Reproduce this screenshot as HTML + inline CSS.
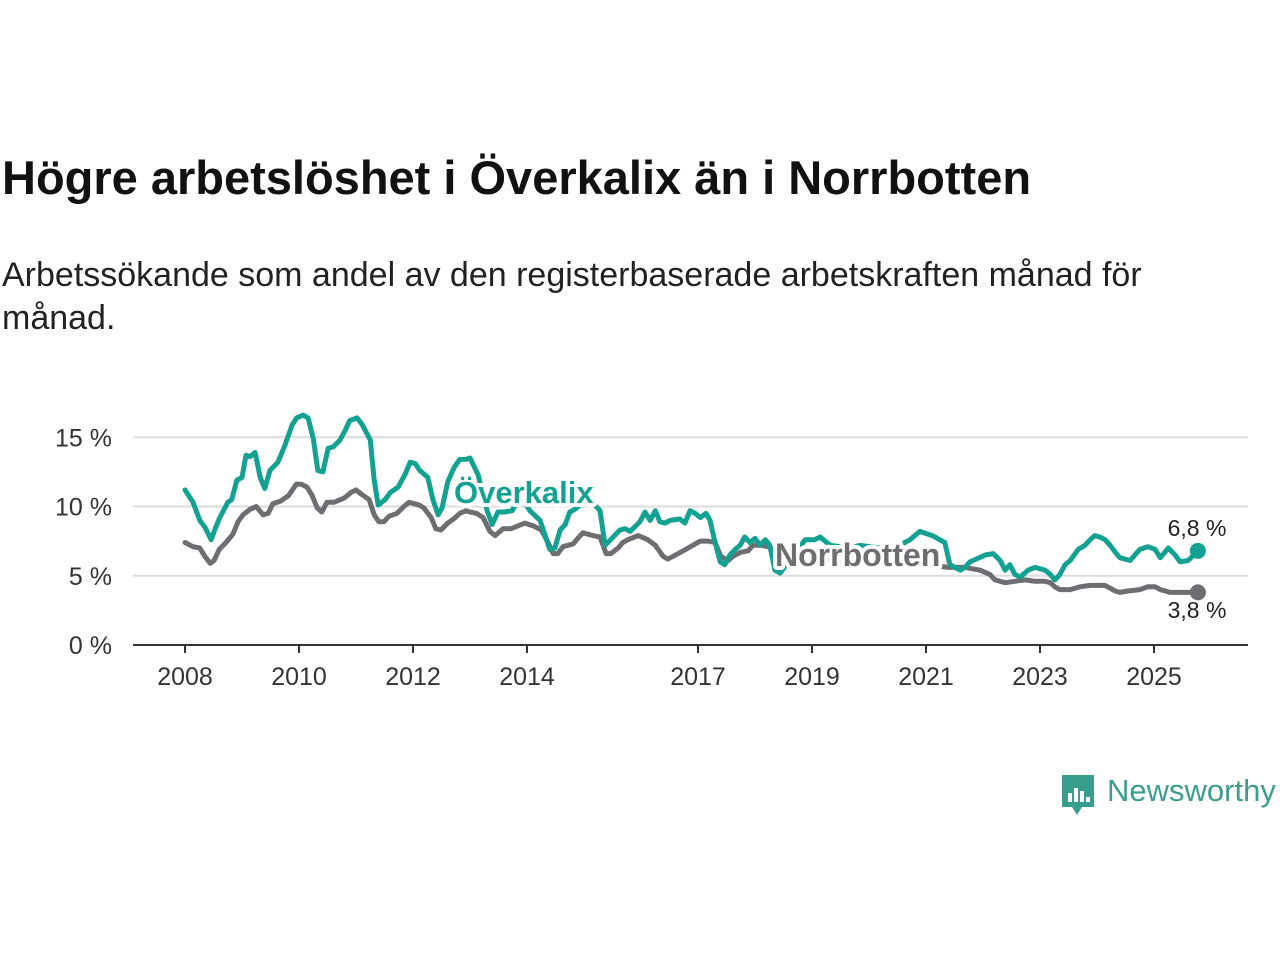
<!DOCTYPE html>
<html><head><meta charset="utf-8">
<style>
body{margin:0;width:1280px;height:960px;background:#fff;font-family:"Liberation Sans",sans-serif;overflow:hidden;position:relative}
h1{position:absolute;left:2px;top:150px;margin:0;font-size:47px;font-weight:bold;color:#111;white-space:nowrap}
p.sub{position:absolute;left:2px;top:254px;margin:0;font-size:34px;line-height:43px;color:#222;width:1200px}
svg{position:absolute;left:0;top:0}
</style></head>
<body>
<h1>Högre arbetslöshet i Överkalix än i Norrbotten</h1>
<p class="sub">Arbetssökande som andel av den registerbaserade arbetskraften månad för månad.</p>
<svg id="chart" width="1280" height="960"></svg>
<script>
const yTicks=[0,5,10,15];
const yTickLabels=["0 %","5 %","10 %","15 %"];
const xTicks=[2008,2010,2012,2014,2017,2019,2021,2023,2025];
const tOver=[2008.00,2008.14,2008.26,2008.35,2008.46,2008.53,2008.61,2008.75,2008.82,2008.91,2009.00,2009.07,2009.14,2009.23,2009.32,2009.40,2009.49,2009.63,2009.75,2009.88,2009.96,2010.07,2010.16,2010.25,2010.33,2010.42,2010.51,2010.60,2010.72,2010.81,2010.89,2011.02,2011.11,2011.25,2011.32,2011.39,2011.51,2011.60,2011.74,2011.86,2011.95,2012.04,2012.12,2012.26,2012.35,2012.44,2012.51,2012.61,2012.72,2012.82,2012.93,2013.00,2013.14,2013.21,2013.30,2013.39,2013.49,2013.61,2013.74,2013.88,2014.05,2014.23,2014.40,2014.49,2014.58,2014.67,2014.75,2014.84,2014.93,2015.11,2015.19,2015.28,2015.37,2015.49,2015.63,2015.72,2015.81,2015.98,2016.07,2016.16,2016.25,2016.33,2016.42,2016.51,2016.68,2016.77,2016.86,2016.95,2017.04,2017.14,2017.21,2017.30,2017.39,2017.47,2017.56,2017.65,2017.74,2017.82,2017.91,2018.00,2018.09,2018.18,2018.26,2018.35,2018.44,2018.61,2018.88,2019.05,2019.14,2019.32,2019.67,2019.84,2020.19,2020.54,2020.72,2020.89,2021.11,2021.33,2021.42,2021.60,2021.68,2021.77,2022.04,2022.18,2022.30,2022.39,2022.47,2022.56,2022.65,2022.79,2022.91,2023.09,2023.18,2023.26,2023.35,2023.44,2023.53,2023.67,2023.79,2023.88,2023.96,2024.05,2024.14,2024.23,2024.32,2024.40,2024.58,2024.75,2024.89,2025.02,2025.11,2025.25,2025.37,2025.46,2025.60,2025.77];
const vOver=[11.2,10.3,9.0,8.5,7.6,8.4,9.2,10.3,10.5,11.9,12.1,13.7,13.6,13.9,12.1,11.3,12.6,13.2,14.4,15.9,16.4,16.6,16.4,14.9,12.6,12.5,14.2,14.3,14.8,15.5,16.2,16.4,15.9,14.8,11.9,10.1,10.5,11.0,11.4,12.3,13.2,13.1,12.6,12.1,10.5,9.4,9.9,11.8,12.8,13.4,13.4,13.5,12.3,11.2,9.7,8.7,9.6,9.6,9.7,10.8,9.7,9.0,6.9,7.0,8.3,8.7,9.6,9.8,10.1,10.8,10.1,9.7,7.2,7.7,8.3,8.4,8.2,8.9,9.6,9.0,9.7,8.9,8.8,9.0,9.1,8.8,9.7,9.5,9.2,9.5,9.0,7.4,6.0,5.8,6.5,6.9,7.2,7.8,7.4,7.7,7.2,7.6,7.2,5.4,5.2,6.1,7.6,7.6,7.8,7.2,7.0,7.2,7.0,7.2,7.6,8.2,7.9,7.4,5.8,5.4,5.6,6.0,6.5,6.6,6.1,5.4,5.8,5.1,4.9,5.4,5.6,5.4,5.1,4.7,5.1,5.8,6.1,6.9,7.2,7.6,7.9,7.8,7.6,7.2,6.7,6.3,6.1,6.9,7.1,6.9,6.3,7.0,6.5,6.0,6.1,6.8];
const tNorr=[2008.00,2008.14,2008.26,2008.35,2008.44,2008.51,2008.60,2008.72,2008.84,2008.93,2009.02,2009.14,2009.25,2009.37,2009.46,2009.54,2009.68,2009.82,2009.95,2010.04,2010.14,2010.23,2010.32,2010.40,2010.49,2010.61,2010.79,2010.91,2011.00,2011.09,2011.23,2011.32,2011.40,2011.49,2011.58,2011.72,2011.84,2011.93,2012.02,2012.11,2012.19,2012.32,2012.40,2012.49,2012.61,2012.74,2012.82,2012.93,2013.00,2013.12,2013.23,2013.35,2013.44,2013.58,2013.72,2013.84,2013.96,2014.11,2014.25,2014.37,2014.46,2014.54,2014.63,2014.72,2014.81,2014.89,2014.98,2015.07,2015.16,2015.28,2015.39,2015.47,2015.60,2015.68,2015.77,2015.95,2016.12,2016.25,2016.39,2016.47,2016.56,2016.74,2016.91,2017.04,2017.18,2017.30,2017.40,2017.53,2017.61,2017.75,2017.88,2017.96,2018.11,2018.23,2018.32,2018.6,2019.0,2019.5,2020.0,2020.5,2021.0,2021.4,2021.68,2021.95,2022.12,2022.21,2022.39,2022.56,2022.74,2022.91,2023.09,2023.18,2023.26,2023.35,2023.53,2023.70,2023.88,2024.05,2024.14,2024.23,2024.32,2024.40,2024.54,2024.75,2024.89,2025.02,2025.11,2025.28,2025.46,2025.63,2025.77];
const vNorr=[7.4,7.1,7.0,6.4,5.9,6.1,6.9,7.4,8.0,8.9,9.4,9.8,10.0,9.4,9.5,10.2,10.4,10.8,11.6,11.6,11.4,10.8,9.9,9.6,10.3,10.3,10.6,11.0,11.2,10.9,10.5,9.4,8.9,8.9,9.3,9.5,10.0,10.3,10.2,10.1,9.9,9.2,8.4,8.3,8.8,9.2,9.5,9.7,9.6,9.5,9.2,8.2,7.9,8.4,8.4,8.6,8.8,8.6,8.3,7.4,6.6,6.6,7.1,7.2,7.3,7.7,8.1,8.0,7.9,7.8,6.6,6.6,7.0,7.4,7.6,7.9,7.6,7.2,6.4,6.2,6.4,6.8,7.2,7.5,7.5,7.4,6.4,6.1,6.4,6.7,6.8,7.2,7.2,7.1,6.9,6.6,6.3,6.0,5.9,5.9,5.8,5.6,5.6,5.4,5.1,4.7,4.5,4.6,4.7,4.6,4.6,4.5,4.2,4.0,4.0,4.2,4.3,4.3,4.3,4.1,3.9,3.8,3.9,4.0,4.2,4.2,4.0,3.8,3.8,3.8,3.8];
const NS='http://www.w3.org/2000/svg';
const svg=document.getElementById('chart');
const X=t=>185+(t-2008)*57;
const Y=v=>645-v*13.85;
function el(tag,attrs,parent){const e=document.createElementNS(NS,tag);for(const k in attrs)e.setAttribute(k,attrs[k]);(parent||svg).appendChild(e);return e;}
yTicks.forEach((v,i)=>{
  if(v>0){const g=el('line',{x1:133,x2:1248,y1:Y(v),y2:Y(v),stroke:'#dcdcdc','stroke-width':2});
  
  }
  const t=el('text',{x:112,y:Y(v)+9,'text-anchor':'end','font-size':25,fill:'#333'});
  t.textContent=yTickLabels[i];
  
  
});
const ax=el('line',{x1:133,x2:1248,y1:645,y2:645,stroke:'#333','stroke-width':2});


xTicks.forEach(yr=>{
  const tk=el('line',{x1:X(yr),x2:X(yr),y1:645,y2:653,stroke:'#333','stroke-width':2});
  
  
  const t=el('text',{x:X(yr),y:685,'text-anchor':'middle','font-size':25,fill:'#333'});
  t.textContent=yr;
  
  
});
function line(ts,vs,color,name){
  const d=ts.map((t,i)=>(i?'L':'M')+X(t).toFixed(1)+','+Y(vs[i]).toFixed(1)).join('');
  const p=el('path',{d:d,fill:'none',stroke:color,'stroke-width':5,'stroke-linejoin':'round','stroke-linecap':'round'});
  
  
  const n=ts.length-1;
  const c=el('circle',{cx:X(ts[n]),cy:Y(vs[n]),r:8,fill:color});
  
  
}
line(tNorr,vNorr,'#6e6e72','norrbotten-line');
line(tOver,vOver,'#13a292','overkalix-line');
function label(txt,x,y,color,name,size,bold,anchor){
  const t=el('text',{x:x,y:y,'font-size':size,'font-weight':bold?'bold':'normal',fill:color,stroke:'#fff','stroke-width':bold?8:5,'paint-order':'stroke','stroke-linejoin':'round','text-anchor':anchor||'start'});
  t.textContent=txt;
  
  
}
label('Överkalix',454,503,'#13a292','overkalix-label',31,true);
label('Norrbotten',775,566,'#6e6e72','norrbotten-label',32,true);
label('6,8 %',1197,536,'#222','overkalix-end-value',23,false,'middle');
label('3,8 %',1197,618,'#222','norrbotten-end-value',23,false,'middle');
</script>
<div style="position:absolute;left:1060px;top:773px;height:44px;">
<svg width="36" height="44" style="position:relative"><path d="M2 2h32v32H22l-5 8-5-8H2z" fill="#3a9e8f"/><rect x="8" y="20" width="4" height="9" fill="#fff"/><rect x="14" y="15" width="4" height="14" fill="#fff"/><rect x="20" y="18" width="4" height="11" fill="#fff"/><rect x="26" y="24" width="4" height="5" fill="#fff"/></svg>
<span style="position:absolute;left:47px;top:0;font-size:31px;color:#3a9e8f;white-space:nowrap">Newsworthy</span>
</div>
</body></html>
